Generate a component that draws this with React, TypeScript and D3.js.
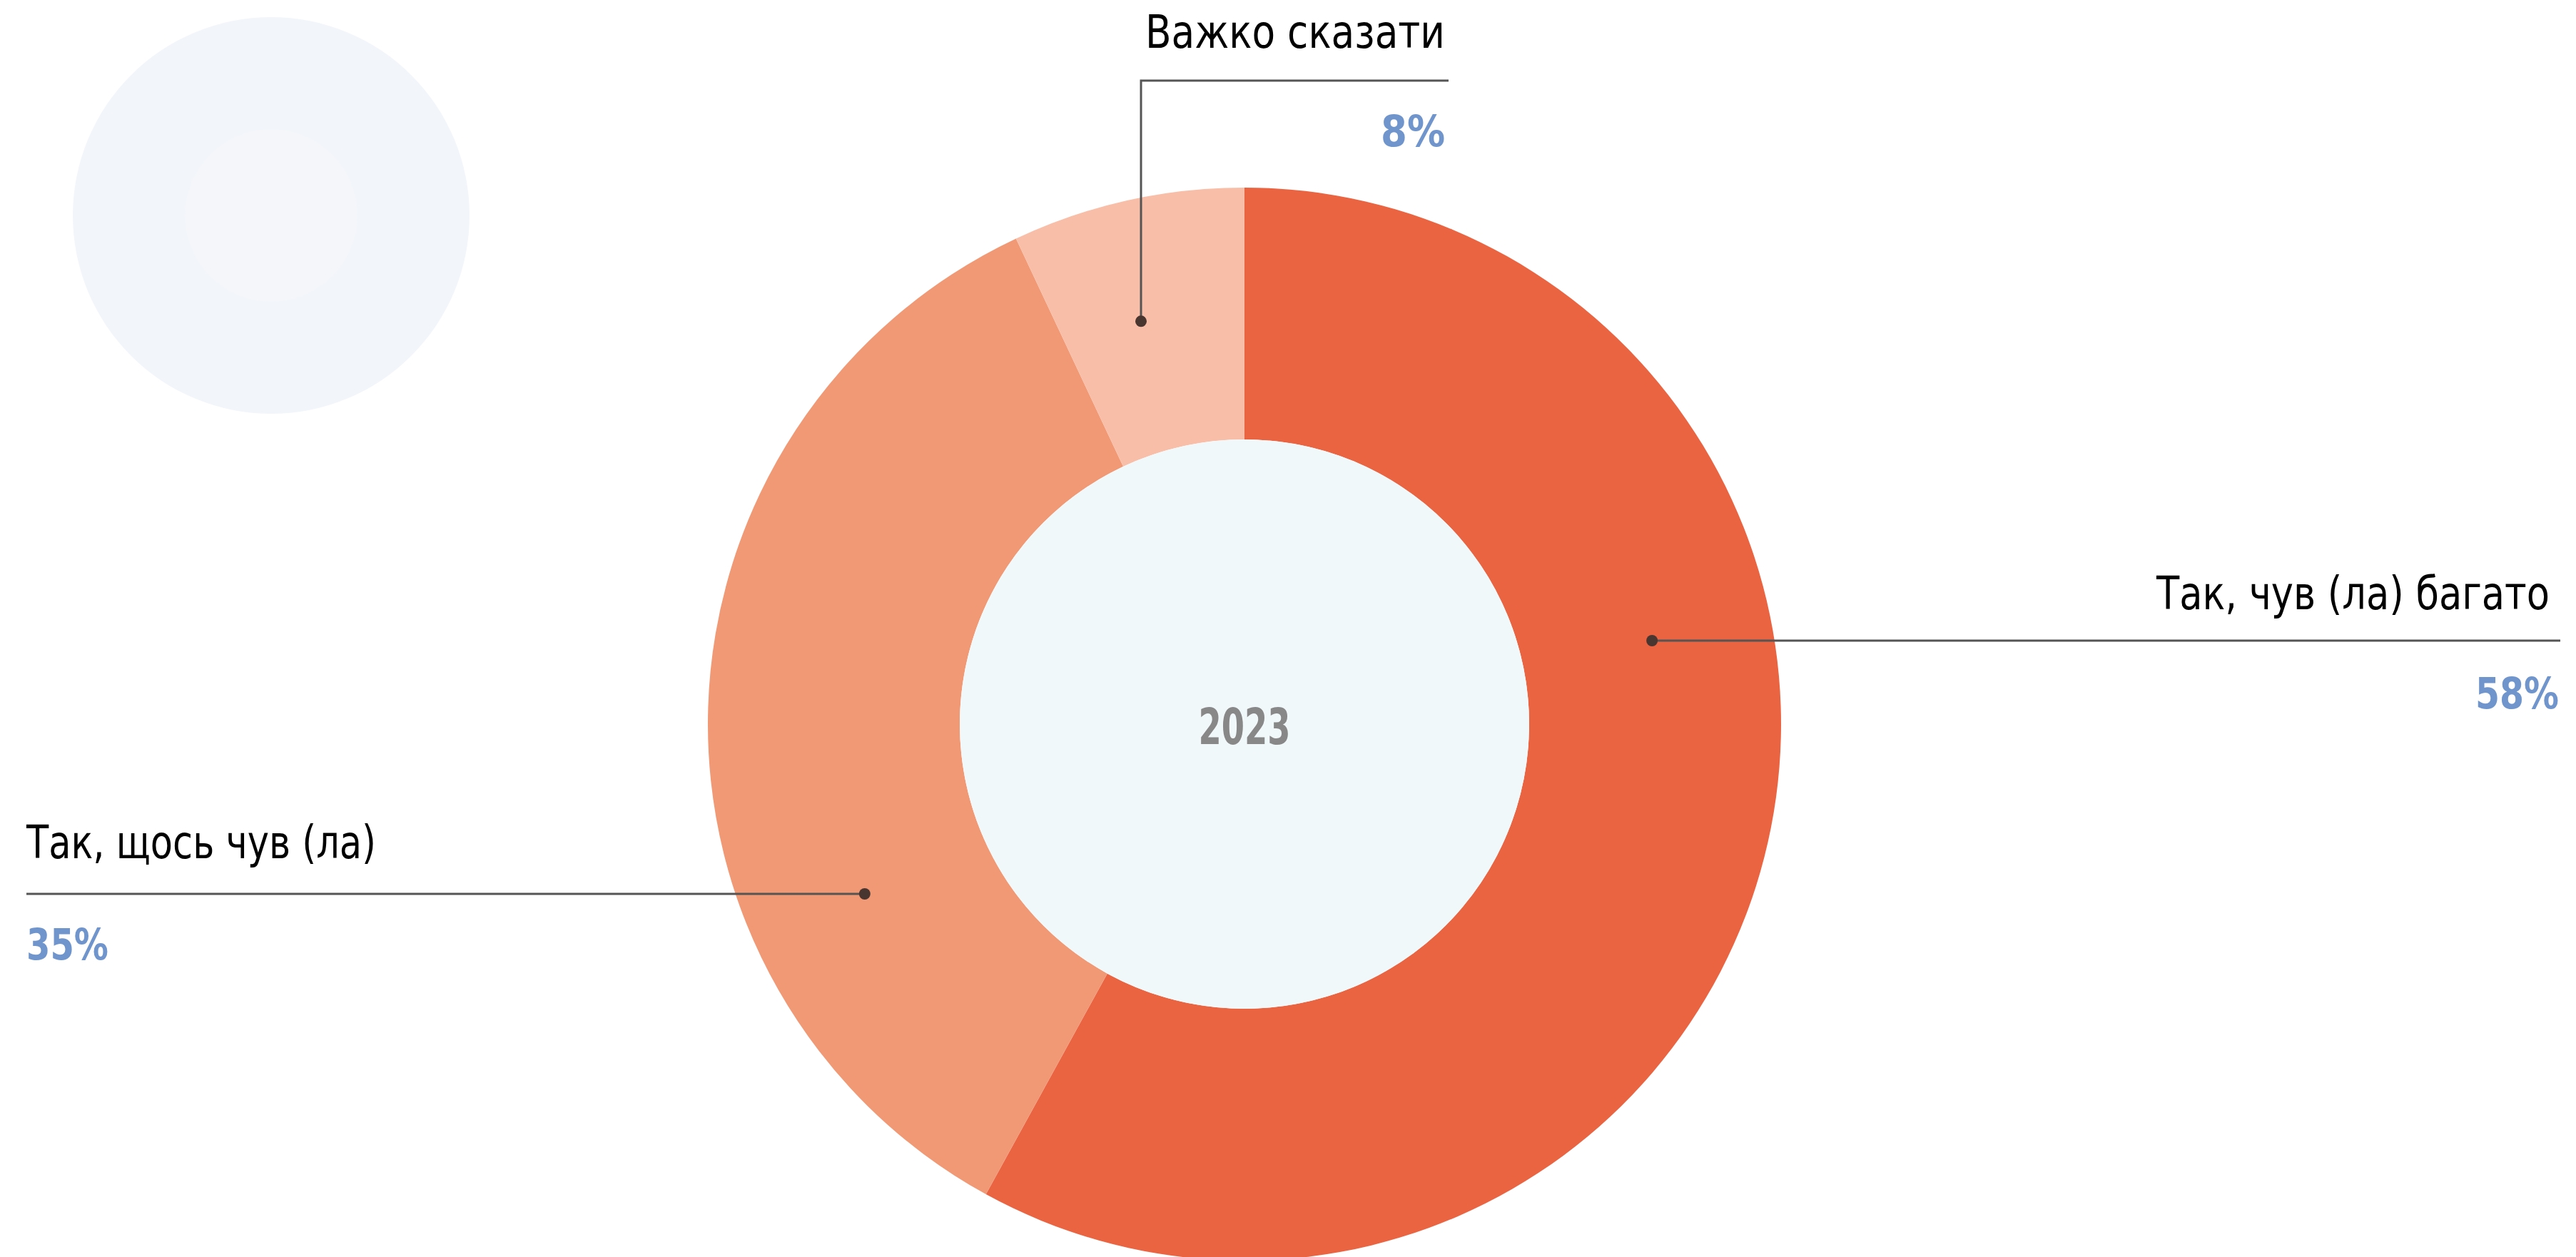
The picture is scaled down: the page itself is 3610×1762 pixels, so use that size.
import React, { useEffect } from 'react';
import * as d3 from 'd3';

// ---- data ----
const categories = ['Так, чув (ла) багато', 'Так, щось чув (ла)', 'Важко сказати'];
const shares = [58, 35, 7];
const percentLabels = ['58%', '35%', '8%'];
const sliceColors = ['#EB6442', '#F19875', '#F8BEA7'];
const centerLabel = '2023';

// ---- layout ----
const W = 3610;
const H = 1762;
const CX = 1744;
const CY = 1015;
const R_OUT = 752;
const R_IN = 399;
const R_DOT = 583;

const FONT = "'Liberation Sans Narrow', 'DejaVu Sans Condensed', 'DejaVu Sans', sans-serif";

type Anchor = 'start' | 'end';
type Callout =
  | { kind: 'h'; lineY: number; endX: number; textX: number; anchor: Anchor; textLen: number; textY: number; pctX: number; pctLen: number; pctY: number }
  | { kind: 'v'; lineX: number; topY: number; endX: number; textX: number; anchor: Anchor; textLen: number; textY: number; pctX: number; pctLen: number; pctY: number };

const callouts: Callout[] = [
  { kind: 'h', lineY: 898, endX: 3588, textX: 3573, anchor: 'end', textLen: 551, textY: 854, pctX: 3586, pctLen: 117, pctY: 993 },
  { kind: 'h', lineY: 1253, endX: 37, textX: 37, anchor: 'start', textLen: 490, textY: 1203, pctX: 37, pctLen: 115, pctY: 1345 },
  { kind: 'v', lineX: 1599, topY: 113, endX: 2030, textX: 2025, anchor: 'end', textLen: 420, textY: 67, pctX: 2025, pctLen: 90, pctY: 205 },
];

export default function App() {
  useEffect(() => {
    document.body.style.margin = '0';
    document.body.style.overflow = 'hidden';
  }, []);

  const pieData = d3.pie<number>().sort(null).startAngle(0).endAngle(2 * Math.PI).value((d) => d)(shares);
  const arcGen = d3.arc<d3.PieArcDatum<number>>().innerRadius(R_IN).outerRadius(R_OUT);

  return (
    <div style={{ position: 'absolute', left: 0, top: 0, width: W, height: H, overflow: 'hidden', background: '#fff' }}>
      <svg width={W} height={H} viewBox={`0 0 ${W} ${H}`}>
        {/* decorative background circle */}
        <circle cx={380} cy={302} r={278} fill="#F2F5FA" />
        <circle cx={380} cy={302} r={121} fill="#F4F6FA" />

        <g transform={`translate(${CX},${CY})`}>
          {pieData.map((d, i) => (
            <path key={i} d={arcGen(d) || ''} fill={sliceColors[i]} />
          ))}
          <circle r={R_IN} fill="#F1F8FA" />
          <text
            x={0}
            y={28}
            textAnchor="middle"
            textLength={129}
            lengthAdjust="spacingAndGlyphs"
            fontFamily={FONT}
            fontWeight={700}
            fontSize={70}
            fill="#888888"
          >
            {centerLabel}
          </text>
        </g>

        {callouts.map((c, i) => {
          let dotX: number;
          let dotY: number;
          let path: string;
          if (c.kind === 'h') {
            const dy = c.lineY - CY;
            const dx = Math.sqrt(R_DOT * R_DOT - dy * dy);
            dotX = c.endX > CX ? CX + dx : CX - dx;
            dotY = c.lineY;
            path = `M${dotX},${dotY}L${c.endX},${c.lineY}`;
          } else {
            const dx = c.lineX - CX;
            const dy = Math.sqrt(R_DOT * R_DOT - dx * dx);
            dotX = c.lineX;
            dotY = CY - dy;
            path = `M${dotX},${dotY}L${c.lineX},${c.topY}L${c.endX},${c.topY}`;
          }
          return (
            <g key={i}>
              <path d={path} fill="none" stroke="#555555" strokeWidth={3} />
              <circle cx={dotX} cy={dotY} r={8} fill="#4A3630" />
              <text
                x={c.textX}
                y={c.textY}
                textAnchor={c.anchor}
                textLength={c.textLen}
                lengthAdjust="spacingAndGlyphs"
                fontFamily={FONT}
                fontSize={64}
                fill="#000000"
              >
                {categories[i]}
              </text>
              <text
                x={c.pctX}
                y={c.pctY}
                textAnchor={c.anchor}
                textLength={c.pctLen}
                lengthAdjust="spacingAndGlyphs"
                fontFamily={FONT}
                fontWeight={700}
                fontSize={60}
                fill="#6F95CC"
              >
                {percentLabels[i]}
              </text>
            </g>
          );
        })}
      </svg>
    </div>
  );
}
